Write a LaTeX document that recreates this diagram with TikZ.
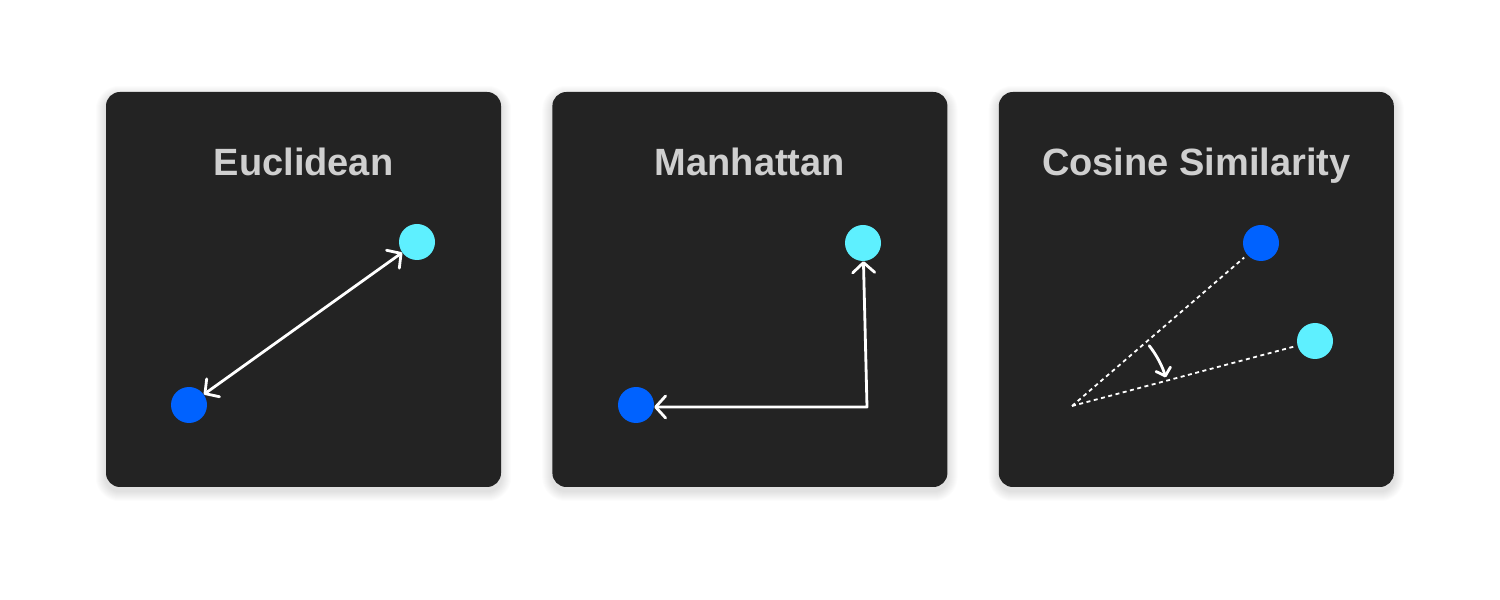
\documentclass[tikz,border=0pt]{standalone}
\usepackage{fontspec}
\setmainfont{Liberation Sans}
\usetikzlibrary{arrows.meta,positioning,backgrounds}

\definecolor{panelgray}{HTML}{232323}
\definecolor{titlegray}{HTML}{CFCFCF}
\definecolor{dotblue}{HTML}{0062FF}
\definecolor{dotcyan}{HTML}{5EF0FF}

\begin{document}
\begin{tikzpicture}[x=1pt,y=1pt,>={Straight Barb[round,length=10pt,width=22pt]},
    panel/.style={rectangle,rounded corners=14pt,fill=panelgray,minimum width=395pt,minimum height=395pt,inner sep=0pt},
    title/.style={text=titlegray,font=\bfseries\fontsize{38}{46}\selectfont,inner sep=0pt,anchor=base},
    blue dot/.style={circle,fill=dotblue,minimum size=36pt,inner sep=0pt},
    cyan dot/.style={circle,fill=dotcyan,minimum size=36pt,inner sep=0pt},
    measure/.style={draw=white,line width=2.8pt,line cap=round,line join=round},
    ray/.style={draw=white,line width=1.8pt,dash pattern=on 4pt off 3.5pt}]

    \useasboundingbox (0,0) rectangle (1500,600);

    % panels
    \node[panel] (p1) at (303.5,310.5) {};
    \node[panel] (p2) [right=51pt of p1] {};
    \node[panel] (p3) [right=51pt of p2] {};

    \node[title] (t1) at ([yshift=-84pt]p1.north) {Euclidean};
    \node[title] (t2) at ([yshift=-84pt]p2.north) {Manhattan};
    \node[title] (t3) at ([yshift=-84pt]p3.north) {Cosine Similarity};

    % Euclidean
    \node[cyan dot] (c1) at (417,358) {};
    \node[blue dot] (b1) at (189,195) {};
    \draw[measure,<->] (b1) -- (c1);

    % Manhattan
    \node[cyan dot] (c2) at (863,357) {};
    \node[blue dot] (b2) at (636,195) {};
    \coordinate (m2) at (867,193);
    \draw[measure,<->] (b2.east |- m2) -- (m2) -- (c2);

    % Cosine Similarity
    \node[blue dot] (b3) at (1261,357) {};
    \node[cyan dot] (c3) at (1315,259) {};
    \coordinate (o3) at (1072,194);
    \draw[ray,shorten >=4pt] (o3) -- (b3);
    \draw[ray,shorten >=3pt] (o3) -- (c3);
    \draw[measure,->,>={Straight Barb[round,length=7pt,width=15pt]}]
        ([shift={(38:98)}]o3) arc[start angle=38,end angle=17,radius=98];

    % background and shadows
    \begin{scope}[on background layer]
        \fill[white] (0,0) rectangle (1500,600);
        \foreach \p in {p1,p2,p3}{
            \foreach \s in {1,...,10}{
                \fill[black,opacity=0.012,rounded corners={(14+\s)*1pt}]
                    ([shift={(-\s,-\s-4)}]\p.south west) rectangle ([shift={(\s,\s-4)}]\p.north east);
            }
        }
    \end{scope}

\end{tikzpicture}
\end{document}
